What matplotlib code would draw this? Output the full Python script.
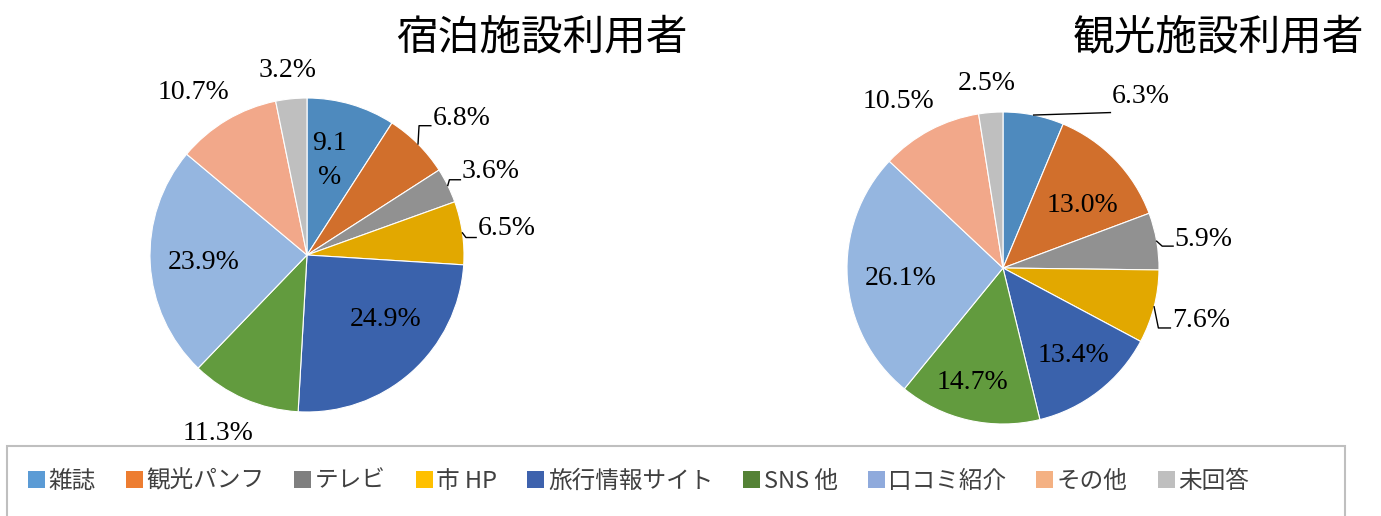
import matplotlib
matplotlib.use('Agg')
import matplotlib.pyplot as plt
import numpy as np
from matplotlib.patches import Patch, Rectangle

plt.rcParams['font.family'] = ['Noto Sans CJK JP', 'DejaVu Sans']

# data
categories = ['雑誌', '観光パンフ', 'テレビ', '市 HP', '旅行情報サイト', 'SNS 他', '口コミ紹介', 'その他', '未回答']
lodging = [9.1, 6.8, 3.6, 6.5, 24.9, 11.3, 23.9, 10.7, 3.2]
sightseeing = [6.3, 13.0, 5.9, 7.6, 13.4, 14.7, 26.1, 10.5, 2.5]
titles = ['宿泊施設利用者', '観光施設利用者']

# colours: slices are a bit darker than the legend swatches
pie_colors = ['#4E8ABE', '#D16F2C', '#919191', '#E2A800', '#3A62AC',
              '#629B3E', '#95B6E0', '#F2A88A', '#BFBFBF']
legend_colors = ['#5B9BD5', '#ED7D31', '#7F7F7F', '#FFC000', '#3E62AD',
                 '#548235', '#8FAADC', '#F4B183', '#BFBFBF']

W, H = 1381, 516

# label placement: (radius factor, angle deg, leader?, leader drop, elbow)
left_layout = [
    (0.62, 76.4, False, 0, 0),
    (1.18, 47.4, True, 0.045, 0.075),
    (1.12, 28.2, True, 0.05, 0.07),
    (1.10, 8.7, True, 0.055, 0.065),
    (0.65, -39.5, False, 0, 0),
    (1.27, -116.6, False, 0, 0),
    (0.66, 184.0, False, 0, 0),
    (1.26, 125.0, False, 0, 0),
    (1.18, 96.0, False, 0, 0),
]
right_layout = [
    (1.30, 57.5, True, 0.10, 0.0),
    (0.65, 38.0, False, 0, 0),
    (1.115, 9.3, True, 0.04, 0.07),
    (1.135, -17.4, True, 0.045, 0.077),
    (0.72, -51.0, False, 0, 0),
    (0.76, -105.0, False, 0, 0),
    (0.66, 185.6, False, 0, 0),
    (1.26, 122.0, False, 0, 0),
    (1.19, 95.0, False, 0, 0),
]

fig = plt.figure(figsize=(W / 100, H / 100), dpi=100)


def draw_pie(values, layout, cx, cy, r, wrap_first=False):
    span = 1.6 * r
    ax = fig.add_axes([(cx - span) / W, (H - cy - span) / H, 2 * span / W, 2 * span / H])
    wedges, _ = ax.pie(values, colors=pie_colors, startangle=90, counterclock=False,
                       radius=1, wedgeprops=dict(edgecolor='white', linewidth=0.8))
    ax.set_xlim(-1.6, 1.6)
    ax.set_ylim(-1.6, 1.6)
    ax.set_aspect('auto')
    ax.axis('off')
    for i, (w, v) in enumerate(zip(wedges, values)):
        rf, ang, leader, drop, elbow = layout[i]
        txt = f'{v:.1f}%'
        if wrap_first and i == 0:
            txt = f'{v:.1f}\n%'
        tx = rf * np.cos(np.radians(ang))
        ty = rf * np.sin(np.radians(ang))
        if leader:
            mid = np.radians((w.theta1 + w.theta2) / 2)
            ax_, ay_ = np.cos(mid), np.sin(mid)
            cx_, cy_ = tx - 0.01, ty - drop
            bx_ = cx_ - elbow
            ax.plot([ax_, bx_, cx_], [ay_, cy_, cy_], color='black', lw=1.0,
                    clip_on=False)
            ax.text(tx, ty, txt, ha='left', va='center', fontsize=20,
                    family='Liberation Serif', clip_on=False)
        else:
            ax.text(tx, ty, txt, ha='center', va='center', fontsize=20,
                    family='Liberation Serif', linespacing=1.45, clip_on=False)
    return ax


draw_pie(lodging, left_layout, 307, 255, 157, wrap_first=True)
draw_pie(sightseeing, right_layout, 1003, 268, 156)

fig.text(542 / W, 1 - 38 / H, titles[0], ha='center', va='center', fontsize=30)
fig.text(1218 / W, 1 - 38 / H, titles[1], ha='center', va='center', fontsize=30)

# legend frame
fig.patches.append(Rectangle((7 / W, -0.05), (1345 - 7) / W, 0.05 + (H - 446) / H,
                             transform=fig.transFigure, fill=False,
                             edgecolor='#BFBFBF', linewidth=1.5))
handles = [Patch(facecolor=c, edgecolor='none', label=l) for c, l in zip(legend_colors, categories)]
fig.legend(handles=handles, loc='center left', bbox_to_anchor=(28 / W, 35 / H), ncol=9,
           frameon=False, fontsize=17, handlelength=0.72, handleheight=0.72,
           handletextpad=0.15, columnspacing=1.27, borderpad=0, borderaxespad=0,
           labelcolor='#404040')

fig.savefig('out.png', dpi=100)
